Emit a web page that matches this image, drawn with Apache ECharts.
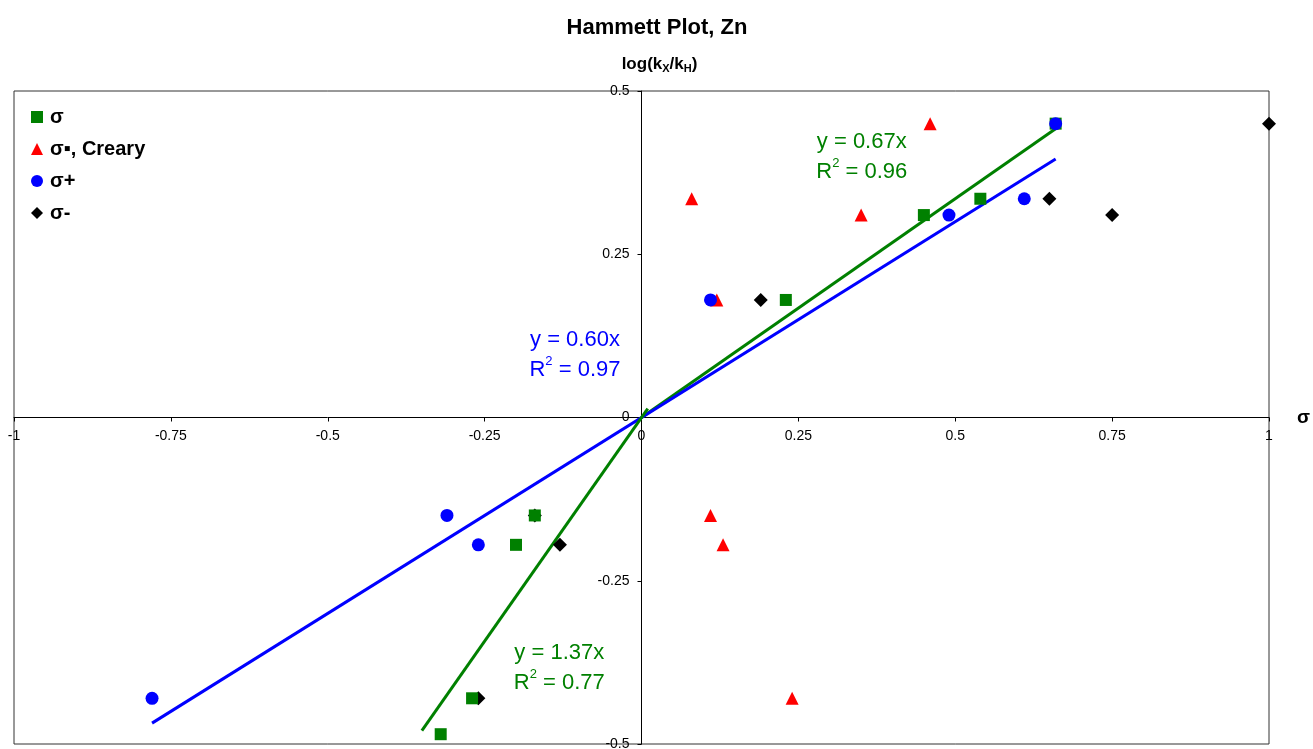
<!DOCTYPE html>
<html>
<head>
<meta charset="utf-8">
<title>Hammett Plot, Zn</title>
<script src="https://cdn.jsdelivr.net/npm/echarts@6/dist/echarts.min.js"></script>
<style>
  html, body { margin: 0; padding: 0; background: #fff; }
  #chart { width: 1313px; height: 749px; }
</style>
</head>
<body>
<div id="chart"></div>
<script>
// log(kX/kH) for each substituent, shared by all sigma scales
const logRatio = [0.45, 0.335, 0.31, 0.18, -0.15, -0.195, -0.43, -0.485]

// sigma values on each scale (null = not measured)
const sigma = [0.66, 0.54, 0.45, 0.23, -0.17, -0.2, -0.27, -0.32]
const sigmaCreary = [0.46, 0.08, 0.35, 0.12, 0.11, 0.13, 0.24, null]
const sigmaPlus = [0.66, 0.61, 0.49, 0.11, -0.31, -0.26, -0.78, null]
const sigmaMinus = [1.0, 0.65, 0.75, 0.19, -0.17, -0.13, -0.26, null]

// trendlines through the origin: slope, x range
const fitSlopes = [0.67, 0.6, 1.37]
const fitFrom = [0, -0.78, -0.35]
const fitTo = [0.665, 0.66, 0.01]
const fitColors = ['#008000', '#0000ff', '#008000']
const fitR2 = ['0.96', '0.97', '0.77']
const fitLabelX = [0.351, -0.106, -0.131]
const fitLabelY = [0.399, 0.0965, -0.384]

const xTicks = { min: -1, max: 1, interval: 0.25 }
const yTicks = { min: -0.5, max: 0.5, interval: 0.25 }

const W = 1313, H = 749
const gridBox = { left: 14, right: 44, top: 91, bottom: 5 }
const plotW = W - gridBox.left - gridBox.right
const plotH = H - gridBox.top - gridBox.bottom

const pairs = (xs) => xs.map((x, i) => (x === null ? null : [x, logRatio[i]])).filter(Boolean)

const chart = echarts.init(document.getElementById('chart'), null, { renderer: 'canvas' })

const lineSeries = fitSlopes.map((k, i) => ({
  type: 'line',
  name: 'fit' + i,
  data: [[fitFrom[i], k * fitFrom[i]], [fitTo[i], k * fitTo[i]]],
  showSymbol: false,
  silent: true,
  lineStyle: { color: fitColors[i], width: 3, opacity: 1 },
  z: 1
}))

const scatter = (name, xs, symbol, size, color) => ({
  type: 'scatter',
  name: name,
  data: pairs(xs),
  symbol: symbol,
  symbolSize: size,
  itemStyle: { color: color, opacity: 1 },
  z: 3
})

const font = 'Liberation Sans'

const option = {
  animation: false,
  title: {
    text: 'Hammett Plot, Zn',
    left: 652,
    textAlign: 'center',
    top: 12,
    textStyle: { fontFamily: font, fontSize: 22, fontWeight: 'bold', color: '#000' }
  },
  legend: {
    orient: 'vertical',
    left: 26,
    top: 102,
    padding: 5,
    itemWidth: 12,
    itemHeight: 12,
    itemGap: 12,
    data: ['σ', 'σ▪, Creary', 'σ+', 'σ-'],
    textStyle: { fontFamily: font, fontSize: 20, fontWeight: 'bold', color: '#000', lineHeight: 20, padding: [0, 0, 0, 2] }
  },
  grid: {
    left: gridBox.left,
    right: gridBox.right,
    top: gridBox.top,
    bottom: gridBox.bottom,
    containLabel: false,
    outerBoundsMode: 'none',
    show: true,
    borderColor: '#333',
    borderWidth: 1
  },
  xAxis: {
    type: 'value',
    position: 'bottom',
    offset: -plotH / 2,
    min: xTicks.min,
    max: xTicks.max,
    interval: xTicks.interval,
    name: 'σ',
    nameLocation: 'end',
    nameGap: 28,
    nameTextStyle: { fontFamily: font, fontSize: 19, fontWeight: 'bold', color: '#000', padding: [6, 0, 0, 0] },
    axisLine: { onZero: false, lineStyle: { color: '#000', width: 1 } },
    axisTick: { show: true, length: 4, lineStyle: { color: '#000' } },
    axisLabel: { fontFamily: font, fontSize: 14, color: '#000', margin: 12 },
    splitLine: { show: false }
  },
  yAxis: {
    type: 'value',
    position: 'left',
    offset: -plotW / 2,
    min: yTicks.min,
    max: yTicks.max,
    interval: yTicks.interval,
    name: '{b|log(k}{sub|X}{b|/k}{sub|H}{b|)}',
    nameLocation: 'end',
    nameGap: 17,
    nameTextStyle: {
      padding: [0, 0, 0, 36],
      rich: {
        b: { fontFamily: font, fontSize: 17, fontWeight: 'bold', color: '#000', lineHeight: 20 },
        sub: { fontFamily: font, fontSize: 11, fontWeight: 'bold', color: '#000', verticalAlign: 'bottom', lineHeight: 16 }
      }
    },
    axisLine: { onZero: false, lineStyle: { color: '#000', width: 1 } },
    axisTick: { show: true, length: 4, lineStyle: { color: '#000' } },
    axisLabel: { fontFamily: font, fontSize: 14, color: '#000', margin: 12 },
    splitLine: { show: false }
  },
  series: [
    ...lineSeries,
    scatter('σ-', sigmaMinus, 'diamond', 14, '#000'),
    scatter('σ▪, Creary', sigmaCreary, 'triangle', 13, '#ff0000'),
    scatter('σ', sigma, 'rect', 12, '#008000'),
    scatter('σ+', sigmaPlus, 'circle', 13, '#0000ff'),
    {
      type: 'scatter',
      name: 'fitLabels',
      symbolSize: 0,
      silent: true,
      z: 4,
      data: fitSlopes.map((k, i) => ({
        value: [fitLabelX[i], fitLabelY[i]],
        label: {
          show: true,
          position: 'inside',
          formatter: 'y = ' + k.toFixed(2) + 'x\nR{sup|2} = ' + fitR2[i],
          fontFamily: font,
          fontSize: 22,
          lineHeight: 30,
          color: fitColors[i],
          opacity: 1,
          rich: {
            sup: { fontFamily: font, fontSize: 13, color: fitColors[i], verticalAlign: 'top', lineHeight: 30, padding: [0, 0, 8, 0] }
          }
        }
      }))
    }
  ]
}

chart.setOption(option)
window.addEventListener('resize', () => chart.resize())
</script>
</body>
</html>
